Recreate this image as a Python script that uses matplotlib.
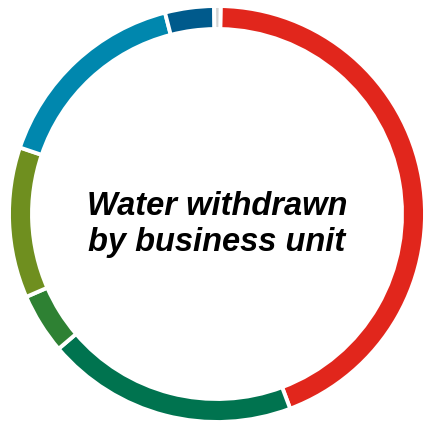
import matplotlib
matplotlib.use("Agg")
import matplotlib.pyplot as plt

units = ["Unit A", "Unit B", "Unit C", "Unit D", "Unit E", "Unit F", "Other"]
shares = [44.0, 19.5, 4.7, 11.7, 15.8, 3.8, 0.5]
colors = ["#E1261C", "#00734F", "#2E8133", "#6F8F1F", "#0087AE", "#005A8C", "#D3D3D3"]
title_lines = ["Water withdrawn", "by business unit"]

fig = plt.figure(figsize=(4.24, 4.23), dpi=100)
ax = fig.add_axes([0, 0, 1, 1])
ax.pie(shares, colors=colors, center=(217, 423 - 214), radius=208,
       startangle=89, counterclock=False,
       wedgeprops=dict(width=23, edgecolor="white", linewidth=2.8))
ax.set_xlim(0, 424)
ax.set_ylim(0, 423)
ax.set_aspect("equal")
ax.axis("off")
for line, base in zip(title_lines, [214.5, 250.5]):
    ax.text(217, 423 - base, line, ha="center", va="baseline",
            fontsize=23.5, fontweight="bold", fontstyle="italic", family="Liberation Sans",
            color="black")
fig.savefig("out.png", dpi=100)
